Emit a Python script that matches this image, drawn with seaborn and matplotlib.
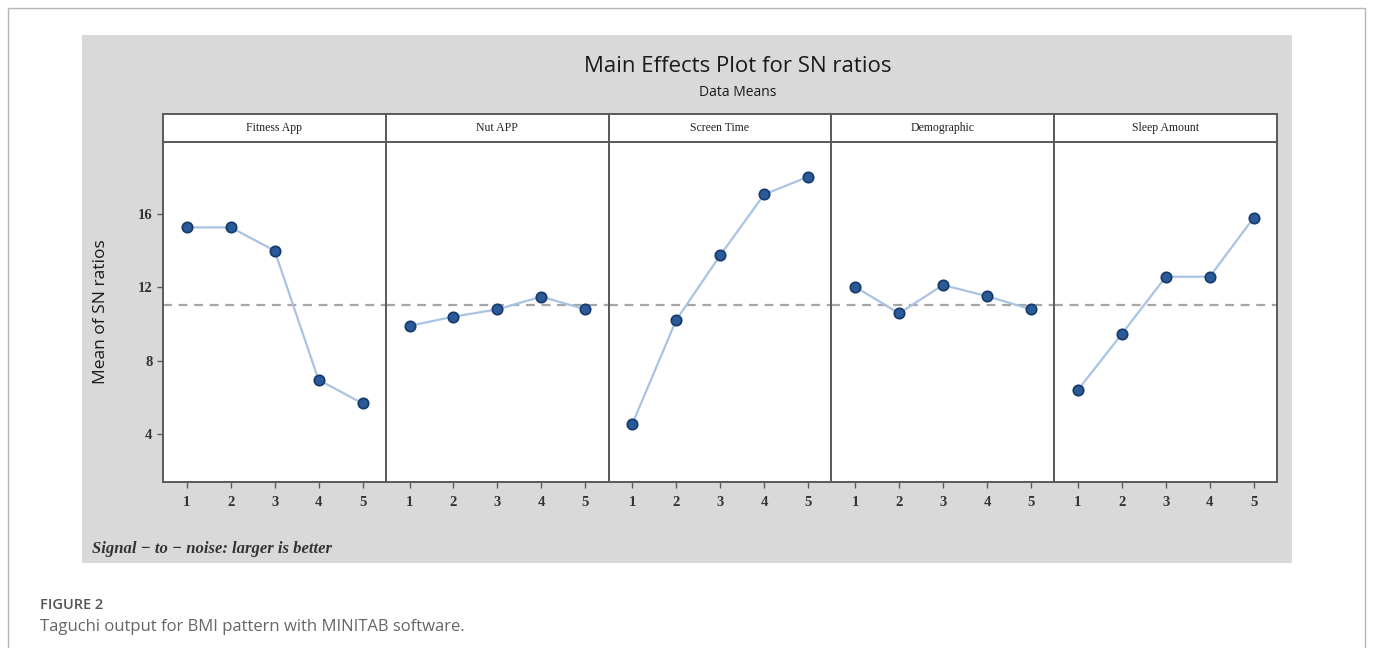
import numpy as np
import pandas as pd
import seaborn as sns
import matplotlib.pyplot as plt
from matplotlib.patches import Rectangle

levels = [1, 2, 3, 4, 5]
factors = ['Fitness App', 'Nut APP', 'Screen Time', 'Demographic', 'Sleep Amount']
fitness_app = [15.27, 15.27, 14.0, 6.95, 5.67]
nut_app = [9.9, 10.4, 10.8, 11.49, 10.8]
screen_time = [4.55, 10.22, 13.75, 17.07, 18.03]
demographic = [12.03, 10.58, 12.13, 11.52, 10.8]
sleep_amount = [6.4, 9.46, 12.58, 12.58, 15.8]
overall_mean = 11.05
yticks = [4, 8, 12, 16]

series = [fitness_app, nut_app, screen_time, demographic, sleep_amount]
df = pd.concat([pd.DataFrame({'factor': f, 'level': levels, 'sn': v})
                for f, v in zip(factors, series)], ignore_index=True)

sns.set_theme(style='white')
plt.rcParams['font.family'] = ['DejaVu Sans']

W, H = 1373, 648
fig = plt.figure(figsize=(W / 100, H / 100), dpi=100)
fig.patch.set_facecolor('white')

def fx(px):
    return px / W

def fy(py):
    return 1 - py / H

# outer card border and grey minitab panel (behind the axes)
fig.patches.append(Rectangle((fx(8), fy(680)), fx(1357), (680 - 8) / H,
                             transform=fig.transFigure, facecolor='white',
                             edgecolor='#b5b5b5', lw=1.0, zorder=-3))
fig.patches.append(Rectangle((fx(82), fy(563)), fx(1292 - 82), (563 - 35) / H,
                             transform=fig.transFigure, facecolor='#d9d9d9',
                             edgecolor='none', zorder=-2))

left, right = 163, 1277
top, bottom = 142, 482
strip_top = 114
pw = (right - left) / 5

axes = []
for i, f in enumerate(factors):
    ax = fig.add_axes([fx(left + i * pw), fy(bottom), fx(pw), (bottom - top) / H],
                      sharey=axes[0] if axes else None)
    axes.append(ax)
    sub = df[df['factor'] == f]
    ax.axhline(overall_mean, color='#a6a6a6', ls=(0, (4, 3)), lw=1.6, zorder=1)
    sns.lineplot(data=sub, x='level', y='sn', ax=ax, color='#a9c3e4', lw=1.6,
                 marker='o', markersize=7.5, markerfacecolor='#2a5a98',
                 markeredgecolor='#163a6c', markeredgewidth=1.2, zorder=3)
    ax.set_facecolor('white')
    ax.set_xlim(0.46, 5.53)
    ax.set_ylim(1.38, 19.93)
    ax.set_xticks(levels)
    ax.set_xticklabels([str(l) for l in levels], fontfamily='Liberation Serif',
                       fontsize=10.5, fontweight='bold', color='#333333')
    ax.set_xlabel('')
    ax.set_ylabel('')
    for s in ax.spines.values():
        s.set_color('#5a5a5a')
        s.set_linewidth(1.4)
    ax.tick_params(axis='x', direction='out', length=4, width=1, color='#5a5a5a', pad=6,
                   bottom=True)
    if i == 0:
        ax.set_yticks(yticks)
        ax.set_yticklabels([str(t) for t in yticks], fontfamily='Liberation Serif',
                           fontsize=10.5, fontweight='bold', color='#333333')
        ax.tick_params(axis='y', direction='out', length=4, width=1, color='#5a5a5a', left=True)
    else:
        ax.tick_params(axis='y', left=False, labelleft=False)
    # strip header
    sax = fig.add_axes([fx(left + i * pw), fy(top), fx(pw), (top - strip_top) / H])
    sax.set_xticks([])
    sax.set_yticks([])
    sax.set_facecolor('white')
    for s in sax.spines.values():
        s.set_color('#5a5a5a')
        s.set_linewidth(1.4)
    sax.text(0.5, 0.5, f, ha='center', va='center', fontsize=8.5,
             fontfamily='Liberation Serif', color='#222222', transform=sax.transAxes)

fig.text(fx(738), fy(66), 'Main Effects Plot for SN ratios', ha='center', va='center',
         fontsize=16, fontfamily='Open Sans', color='#1a1a1a')
fig.text(fx(738), fy(93), 'Data Means', ha='center', va='center',
         fontsize=10, fontfamily='Open Sans', color='#1a1a1a')
fig.text(fx(101), fy(312), 'Mean of SN ratios', ha='center', va='center', rotation=90,
         fontsize=12.5, fontfamily='Open Sans', color='#1a1a1a')
fig.text(fx(92), fy(549), 'Signal \u2212 to \u2212 noise: larger is better', ha='left', va='center',
         fontsize=12, fontfamily='Liberation Serif', fontstyle='italic', fontweight='bold',
         color='#333333')
fig.text(fx(40), fy(605), 'FIGURE 2', ha='left', va='center', fontsize=10.5,
         fontfamily='Open Sans', fontweight='semibold', color='#555555')
fig.text(fx(40), fy(627), 'Taguchi output for BMI pattern with MINITAB software.', ha='left',
         va='center', fontsize=12, fontfamily='Open Sans', color='#666666')

fig.savefig('out.png', dpi=100)
